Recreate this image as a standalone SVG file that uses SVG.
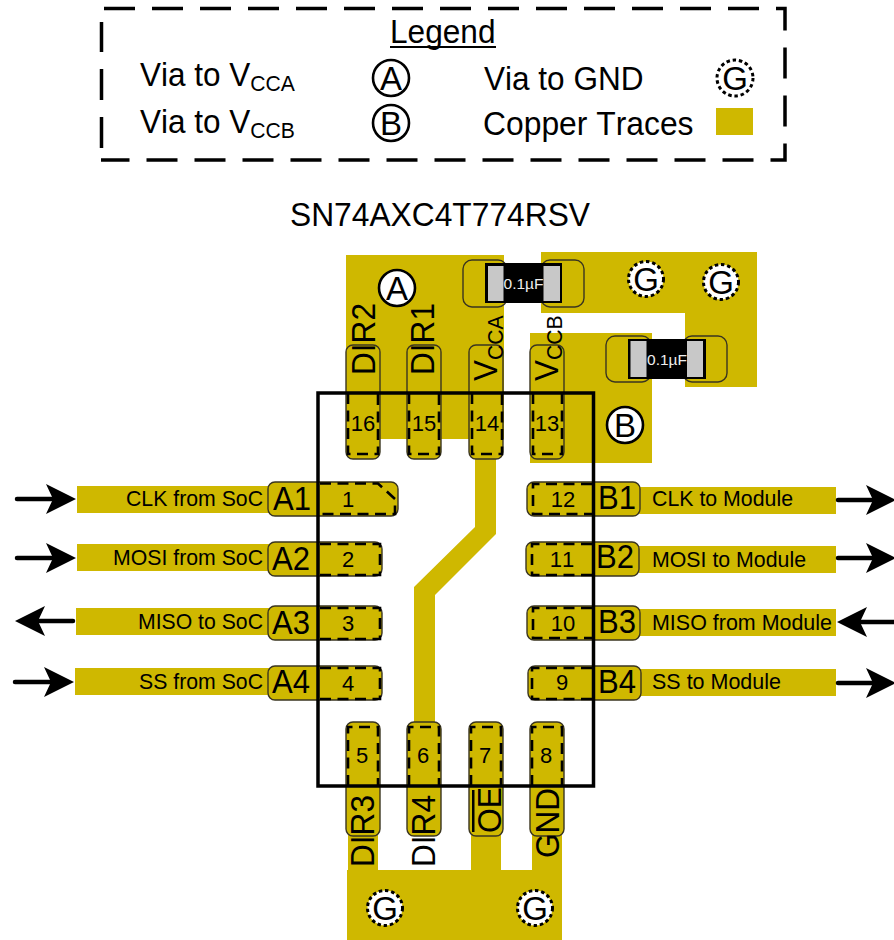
<svg xmlns="http://www.w3.org/2000/svg" width="894" height="940" viewBox="0 0 894 940">
<style>
text{font-family:"Liberation Sans",Arial,sans-serif;fill:#000;font-kerning:none}
.big{font-size:33.5px}
.lab{font-size:22.5px}
.sub{font-size:22.5px}
.num{font-size:22px;text-anchor:middle}
.via{font-size:33px;text-anchor:middle}
.cu{fill:#cfb800}
.pad{fill:#cfb800;stroke:#3a3520;stroke-width:1.4}
.cp{fill:none;stroke:#3a3520;stroke-width:1.4}
.dash{fill:none;stroke:#000;stroke-width:2.6;stroke-dasharray:11 6.500}
.g{fill:#fff;stroke:#000;stroke-width:3;stroke-dasharray:3.500 2.800}
.v{fill:#fff;stroke:#000;stroke-width:2.6}
.arr{stroke:#000;stroke-width:4.5;stroke-linecap:round;fill:none}
.cap{font-size:15.5px;fill:#eee;text-anchor:middle}
.end{text-anchor:end}
</style>
<defs>
<path id="head" d="M0 0L-30 -15L-23 0L-30 15Z" fill="#000"/>
</defs>

<g id="legend">
<path d="M104 8.500H785V160H101" fill="none" stroke="#000" stroke-width="3.500" stroke-dasharray="31 17"/>
<path d="M101.500 148V22" fill="none" stroke="#000" stroke-width="3.500" stroke-dasharray="31 17"/>
<text class="big" x="390" y="43" textLength="105.500" lengthAdjust="spacingAndGlyphs">Legend</text>
<rect x="390" y="46" width="106" height="2" fill="#000"/>
<text class="big" transform="translate(140 86) scale(.94 1)">Via to V<tspan class="sub" dy="5">CCA</tspan></text>
<text class="big" transform="translate(140 133) scale(.94 1)">Via to V<tspan class="sub" dy="5">CCB</tspan></text>
<text class="big" x="484" y="90" textLength="159.500" lengthAdjust="spacingAndGlyphs">Via to GND</text>
<text class="big" x="483" y="134.500" textLength="210.500" lengthAdjust="spacingAndGlyphs">Copper Traces</text>
<circle class="v" cx="391" cy="78" r="18"/><text class="via" x="391" y="90">A</text>
<circle class="v" cx="391" cy="123" r="18"/><text class="via" x="391" y="135">B</text>
<circle class="g" cx="735" cy="78" r="18"/><text class="via" x="735" y="90">G</text>
<rect class="cu" x="716" y="108" width="37" height="27"/>
</g>

<text id="title" class="big" x="290" y="226" textLength="300" lengthAdjust="spacingAndGlyphs">SN74AXC4T774RSV</text>

<g id="copper">
<rect class="cu" x="346" y="255" width="158" height="184"/>
<path class="cu" d="M541 252H757V387H685V313H541Z"/>
<rect class="cu" x="530" y="333" width="122" height="130"/>
<path class="cu" d="M475 455H496V534L435 595V725H414V587L475 527Z"/>
<rect class="cu" x="77" y="486" width="192" height="27"/>
<rect class="cu" x="77" y="544" width="192" height="27"/>
<rect class="cu" x="76" y="608" width="193" height="27"/>
<rect class="cu" x="75" y="668" width="194" height="27"/>
<rect class="cu" x="639" y="487" width="197" height="27"/>
<rect class="cu" x="639" y="546" width="197" height="27"/>
<rect class="cu" x="639" y="609" width="197" height="27"/>
<rect class="cu" x="639" y="669" width="197" height="27"/>
<path class="cu" d="M348 830H378V870H471V830H501V870H532V830H562V940H347V870H348Z"/>
</g>

<g id="cap1">
<rect class="cp" x="463" y="260" width="44" height="47" rx="9"/>
<rect class="cp" x="541" y="260" width="43" height="47" rx="9"/>
<rect x="485" y="263" width="77" height="40" fill="#000"/>
<rect x="488" y="266" width="15.500" height="35" fill="#c8c8c8"/>
<rect x="543.500" y="266" width="16.500" height="35" fill="#c8c8c8"/>
<text class="cap" x="523.500" y="289">0.1µF</text>
</g>
<g id="cap2">
<rect class="cp" x="606" y="336" width="45" height="46" rx="9"/>
<rect class="cp" x="683" y="336" width="44" height="46" rx="9"/>
<rect x="628" y="339" width="78" height="40" fill="#000"/>
<rect x="630.500" y="341" width="16" height="36" fill="#c8c8c8"/>
<rect x="687" y="341" width="16" height="36" fill="#c8c8c8"/>
<text class="cap" x="667" y="365">0.1µF</text>
</g>

<g id="via-a"><circle class="v" cx="397" cy="288" r="18"/><text class="via" x="397" y="300">A</text></g>
<g id="via-b"><circle class="v" cx="625" cy="425" r="18"/><text class="via" x="625" y="437">B</text></g>
<g id="via-g1"><circle class="g" cx="646" cy="279" r="17.500"/><text class="via" x="646" y="291">G</text></g>
<g id="via-g2"><circle class="g" cx="721" cy="282" r="17.500"/><text class="via" x="721" y="294">G</text></g>
<g id="via-g3"><circle class="g" cx="385" cy="908" r="17.500"/><text class="via" x="385" y="920">G</text></g>
<g id="via-g4"><circle class="g" cx="535" cy="908" r="17.500"/><text class="via" x="535" y="920">G</text></g>

<g id="pin16"><rect class="pad" x="346" y="345" width="34" height="114" rx="7"/><path class="dash" d="M348 393V454H378V393"/><text class="num" x="363" y="431">16</text><text class="big" transform="translate(375 375) rotate(-90)" textLength="72" lengthAdjust="spacingAndGlyphs">DIR2</text></g>
<g id="pin15"><rect class="pad" x="407" y="345" width="34" height="114" rx="7"/><path class="dash" d="M409 393V454H439V393"/><text class="num" x="424" y="431">15</text><text class="big" transform="translate(434 375) rotate(-90)" textLength="72" lengthAdjust="spacingAndGlyphs">DIR1</text></g>
<g id="pin14"><rect class="pad" x="469" y="345" width="34" height="114" rx="7"/><path class="dash" d="M472 393V454H502V393"/><text class="num" x="487" y="431">14</text><text class="big" transform="translate(497 381) rotate(-90) scale(.94 1)">V<tspan class="sub" dy="6">CCA</tspan></text></g>
<g id="pin13"><rect class="pad" x="530" y="345" width="34" height="114" rx="7"/><path class="dash" d="M533 393V454H562V393"/><text class="num" x="547" y="431">13</text><text class="big" transform="translate(558 381) rotate(-90) scale(.94 1)">V<tspan class="sub" dy="4">CCB</tspan></text></g>

<g id="pin1"><rect class="pad" x="268" y="482" width="130" height="34" rx="7"/><path class="dash" d="M320 483.500H378L395 499V514H320"/><text class="num" x="348" y="507">1</text><text class="big" x="273" y="510" textLength="38" lengthAdjust="spacingAndGlyphs">A1</text><text class="lab end" x="263" y="506" textLength="137" lengthAdjust="spacingAndGlyphs">CLK from SoC</text></g>
<g id="pin2"><rect class="pad" x="268" y="542" width="114" height="34" rx="7"/><path class="dash" d="M320 544H380V575H320"/><text class="num" x="348" y="567">2</text><text class="big" x="272" y="570" textLength="38" lengthAdjust="spacingAndGlyphs">A2</text><text class="lab end" x="263" y="565" textLength="150" lengthAdjust="spacingAndGlyphs">MOSI from SoC</text></g>
<g id="pin3"><rect class="pad" x="268" y="606" width="114" height="34" rx="7"/><path class="dash" d="M320 608H380V639H320"/><text class="num" x="348" y="631">3</text><text class="big" x="272" y="634" textLength="38" lengthAdjust="spacingAndGlyphs">A3</text><text class="lab end" x="263" y="629" textLength="125" lengthAdjust="spacingAndGlyphs">MISO to SoC</text></g>
<g id="pin4"><rect class="pad" x="268" y="666" width="114" height="34" rx="7"/><path class="dash" d="M320 668H380V699H320"/><text class="num" x="348" y="691">4</text><text class="big" x="272" y="693" textLength="38" lengthAdjust="spacingAndGlyphs">A4</text><text class="lab end" x="263" y="689" textLength="124" lengthAdjust="spacingAndGlyphs">SS from SoC</text></g>

<g id="pin12"><rect class="pad" x="527" y="482" width="113" height="34" rx="7"/><path class="dash" d="M592 484H533V514H592"/><text class="num" x="563" y="507">12</text><text class="big" x="598" y="509" textLength="38" lengthAdjust="spacingAndGlyphs">B1</text><text class="lab" x="652" y="506" textLength="141" lengthAdjust="spacingAndGlyphs">CLK to Module</text></g>
<g id="pin11"><rect class="pad" x="526" y="542" width="113" height="34" rx="7"/><path class="dash" d="M592 544H532V575H592"/><text class="num" x="562" y="567">11</text><text class="big" x="596" y="568" textLength="38" lengthAdjust="spacingAndGlyphs">B2</text><text class="lab" x="652" y="567" textLength="154" lengthAdjust="spacingAndGlyphs">MOSI to Module</text></g>
<g id="pin10"><rect class="pad" x="527" y="606" width="113" height="34" rx="7"/><path class="dash" d="M592 608H533V638H592"/><text class="num" x="563" y="631">10</text><text class="big" x="598" y="633" textLength="38" lengthAdjust="spacingAndGlyphs">B3</text><text class="lab" x="652" y="630" textLength="180" lengthAdjust="spacingAndGlyphs">MISO from Module</text></g>
<g id="pin9"><rect class="pad" x="528" y="666" width="113" height="34" rx="7"/><path class="dash" d="M592 668H532V699H592"/><text class="num" x="562" y="690">9</text><text class="big" x="598" y="693" textLength="38" lengthAdjust="spacingAndGlyphs">B4</text><text class="lab" x="652" y="689" textLength="129" lengthAdjust="spacingAndGlyphs">SS to Module</text></g>

<g id="pin5"><rect class="pad" x="346" y="722" width="34" height="114" rx="7"/><path class="dash" d="M348 786V727H378V786"/><text class="num" x="362" y="763">5</text><text class="big" transform="translate(374 867) rotate(-90)" textLength="72" lengthAdjust="spacingAndGlyphs">DIR3</text></g>
<g id="pin6"><rect class="pad" x="407" y="722" width="34" height="114" rx="7"/><path class="dash" d="M409 786V727H439V786"/><text class="num" x="423" y="763">6</text><text class="big" transform="translate(435 867) rotate(-90)" textLength="72" lengthAdjust="spacingAndGlyphs">DIR4</text></g>
<g id="pin7"><rect class="pad" x="469" y="722" width="34" height="114" rx="7"/><path class="dash" d="M471 786V727H501V786"/><text class="num" x="485" y="763">7</text><text class="big" transform="translate(501 833) rotate(-90)" textLength="46" lengthAdjust="spacingAndGlyphs">OE</text><rect x="472" y="790" width="2.500" height="42" fill="#000"/></g>
<g id="pin8"><rect class="pad" x="530" y="722" width="34" height="114" rx="7"/><path class="dash" d="M532 786V727H562V786"/><text class="num" x="546" y="763">8</text><text class="big" transform="translate(559 858) rotate(-90)" textLength="70" lengthAdjust="spacingAndGlyphs">GND</text></g>

<rect id="package" x="318" y="393" width="275.500" height="393" fill="none" stroke="#000" stroke-width="3.500"/>

<g id="connectors">
<path class="arr" d="M17 499H60"/><use href="#head" x="76" y="499"/>
<path class="arr" d="M17 558H60"/><use href="#head" x="76" y="558"/>
<path class="arr" d="M32 621H73"/><use href="#head" transform="translate(15 621) rotate(180)"/>
<path class="arr" d="M15 682H58"/><use href="#head" x="74" y="682"/>
<path class="arr" d="M838 500H880"/><use href="#head" x="896" y="500"/>
<path class="arr" d="M838 558H880"/><use href="#head" x="896" y="558"/>
<path class="arr" d="M852 622H894"/><use href="#head" transform="translate(837 622) rotate(180)"/>
<path class="arr" d="M838 683H880"/><use href="#head" x="896" y="683"/>
</g>
</svg>
